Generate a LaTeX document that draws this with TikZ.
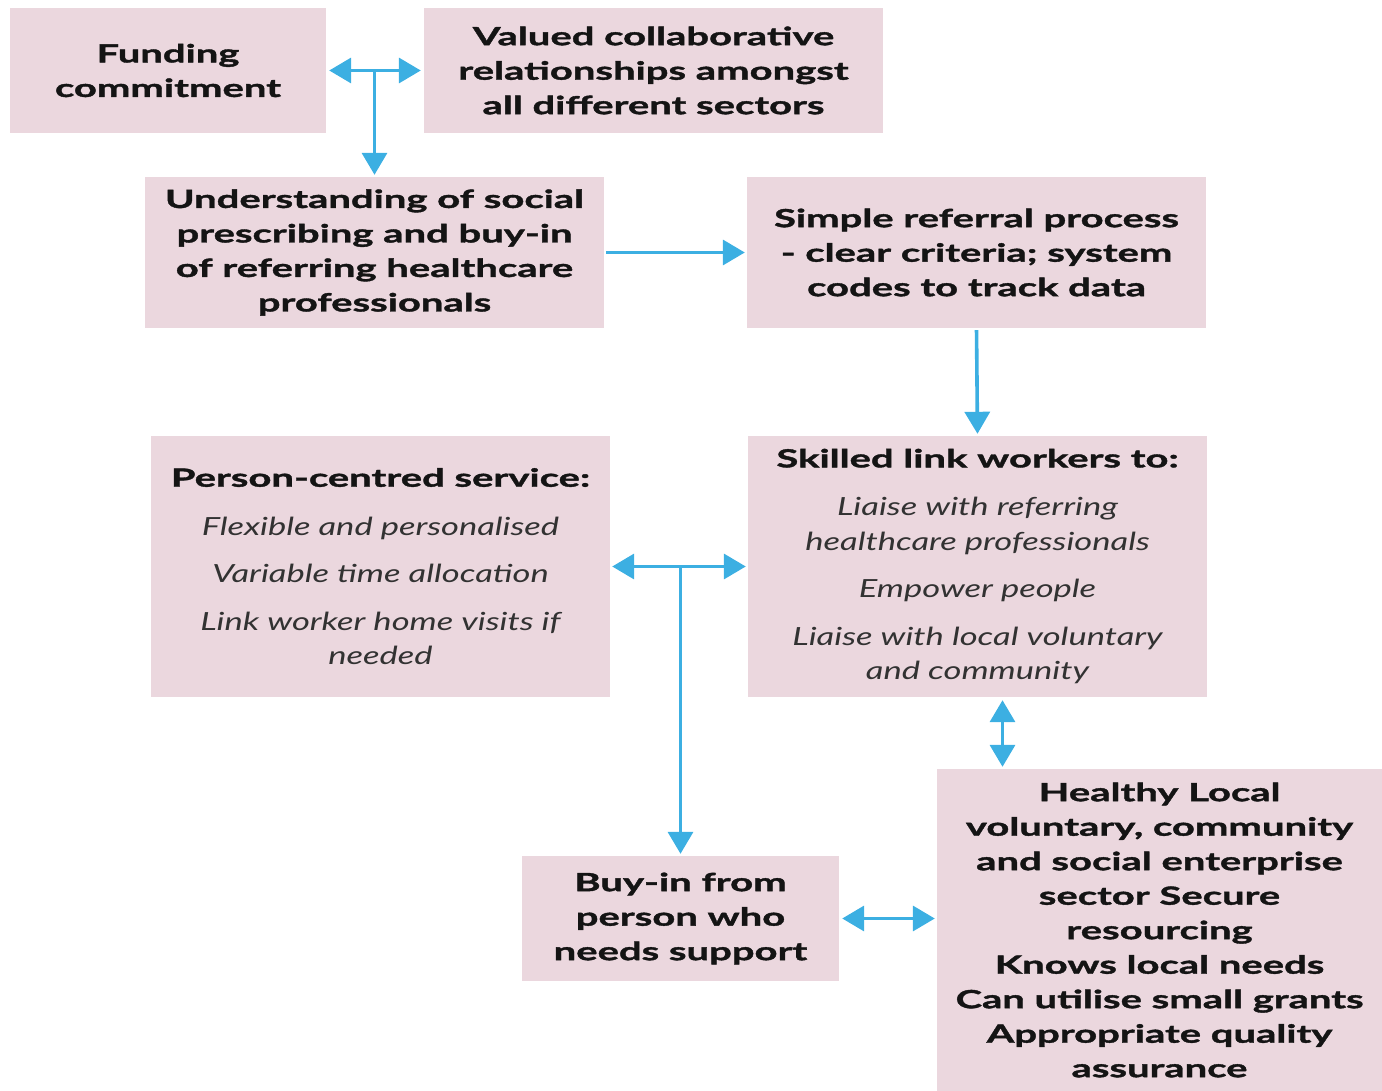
\documentclass[tikz,border=0pt]{standalone}
\usepackage{fontspec}
\setmainfont{Lato}[BoldFeatures={FakeStretch=1.6,FakeBold=1.5},ItalicFeatures={FakeStretch=1.38}]
\usetikzlibrary{arrows.meta}
\definecolor{boxpink}{RGB}{235,215,222}
\definecolor{arrblue}{RGB}{60,175,226}
\definecolor{txt}{RGB}{20,20,20}
\definecolor{itxt}{RGB}{50,50,50}
\tikzset{
  pbox/.style={fill=boxpink, draw=none, inner sep=0pt, align=center, text=txt,
    font=\bfseries\fontsize{25}{34.5}\selectfont},
  conn/.style={draw=arrblue, line width=3.6pt,
    -{Triangle[length=22pt,width=25pt]}},
  biconn/.style={draw=arrblue, line width=3.6pt,
    {Triangle[length=22pt,width=25pt]}-{Triangle[length=22pt,width=25pt]}}
}
\newcommand{\itm}[1]{{\itshape\mdseries\color{itxt}#1}}
\begin{document}
\begin{tikzpicture}[x=1pt,y=-1pt]
\useasboundingbox (0,0) rectangle (1382,1091);
\node[pbox, minimum width=316pt, minimum height=125pt] (fund) at (168,70.5) {Funding\\commitment};
\node[pbox, minimum width=459pt, minimum height=125pt] (val) at (653.5,70.5) {Valued collaborative\\relationships amongst\\all different sectors};
\node[pbox, minimum width=459pt, minimum height=151pt] (und) at (374.5,252.5) {Understanding of social\\prescribing and buy-in\\of referring healthcare\\professionals};
\node[pbox, minimum width=459pt, minimum height=151pt] (simp) at (976.5,252.5) {Simple referral process\\- clear criteria; system\\codes to track data};
\node[pbox, minimum width=459pt, minimum height=261pt] (pers) at (380.5,566.5) {Person-centred service:\\[14pt]
  \itm{Flexible and personalised}\\[13pt]
  \itm{Variable time allocation}\\[13pt]
  \itm{Link worker home visits if}\\
  \itm{needed}};
\node[pbox, minimum width=459pt, minimum height=261pt] (skill) at (977.5,566.5) {Skilled link workers to:\\[14pt]
  \itm{Liaise with referring}\\
  \itm{healthcare professionals}\\[13pt]
  \itm{Empower people}\\[13pt]
  \itm{Liaise with local voluntary}\\
  \itm{and community}};
\node[pbox, minimum width=317pt, minimum height=125pt] (buy) at (680.5,918.5) {Buy-in from\\person who\\needs support};
\node[pbox, minimum width=445pt, minimum height=322pt] (heal) at (1159.5,930) {Healthy Local\\voluntary, community\\and social enterprise\\sector Secure\\resourcing\\Knows local needs\\Can utilise small grants\\Appropriate quality\\assurance};
\coordinate (j1) at (und.north |- fund.east);
\coordinate (j2) at (buy.north |- pers.east);
\draw[biconn, shorten <=3pt, shorten >=3pt] (fund.east) -- (val.west);
\draw[conn, shorten >=2pt] (j1) -- (und.north);
\draw[conn, shorten <=2pt, shorten >=2pt] (und.east) -- (simp.west);
\draw[conn, shorten <=2pt, shorten >=2pt] (simp.south) -- (skill.north);
\draw[biconn, shorten <=2pt, shorten >=2pt] (pers.east) -- (skill.west);
\draw[conn, shorten >=2pt] (j2) -- (buy.north);
\draw[biconn, shorten <=3pt, shorten >=2pt] ([xshift=25pt]skill.south) -- ([xshift=25pt]skill.south |- heal.north);
\draw[biconn, shorten <=3pt, shorten >=2pt] (buy.east) -- (buy.east -| heal.west);
\end{tikzpicture}
\end{document}
